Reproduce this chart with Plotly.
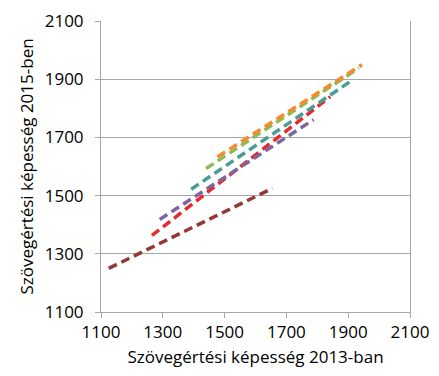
import plotly.graph_objects as go

# Series (start/end points of each regression line)
brown_x = [1125, 1655]
brown_y = [1250, 1525]
red_x = [1265, 1842]
red_y = [1363, 1840]
purple_x = [1290, 1788]
purple_y = [1418, 1761]
teal_x = [1392, 1912]
teal_y = [1522, 1896]
green_x = [1440, 1934]
green_y = [1593, 1938]
orange_x = [1477, 1945]
orange_y = [1633, 1950]

tick_vals = [1100, 1300, 1500, 1700, 1900, 2100]
tick_text = ["1100", "1300", "1500", "1700", "1900", "2100"]

series = [
    (brown_x, brown_y, "#953735"),
    (red_x, red_y, "#E52B2B"),
    (purple_x, purple_y, "#8064A2"),
    (teal_x, teal_y, "#4A9C98"),
    (green_x, green_y, "#8DBB57"),
    (orange_x, orange_y, "#F58A2E"),
]

fig = go.Figure()
for xs, ys, c in series:
    fig.add_trace(go.Scatter(x=xs, y=ys, mode="lines",
                             line=dict(color=c, width=3.5, dash="9px,5px"),
                             showlegend=False, hoverinfo="skip"))

font = "'Open Sans', Lato, sans-serif"
fig.update_layout(
    width=423, height=360,
    margin=dict(l=93, r=21, t=13, b=56),
    paper_bgcolor="white", plot_bgcolor="white",
    font=dict(family=font, size=17, color="#000000"),
    showlegend=False,
)
fig.update_xaxes(
    range=[1100, 2100], tickvals=tick_vals, ticktext=tick_text,
    showgrid=False, zeroline=False, automargin=False,
    showline=True, linecolor="#A6A6A6", linewidth=1,
    ticks="outside", ticklen=5, tickcolor="#A6A6A6",
    tickfont=dict(size=17),
    title=dict(text="Szövegértési képesség 2013-ban", font=dict(size=17), standoff=10),
)
fig.update_yaxes(
    range=[1100, 2100], tickvals=tick_vals, ticktext=tick_text,
    showgrid=True, gridcolor="#A6A6A6", gridwidth=1, zeroline=False, automargin=False,
    showline=True, linecolor="#A6A6A6", linewidth=1, mirror=True,
    ticks="outside", ticklen=5, tickcolor="#A6A6A6",
    tickfont=dict(size=17), ticklabelstandoff=8,
    title=dict(text="Szövegértési képesség 2015-ben", font=dict(size=17), standoff=6),
)

fig.write_html("out.html")
